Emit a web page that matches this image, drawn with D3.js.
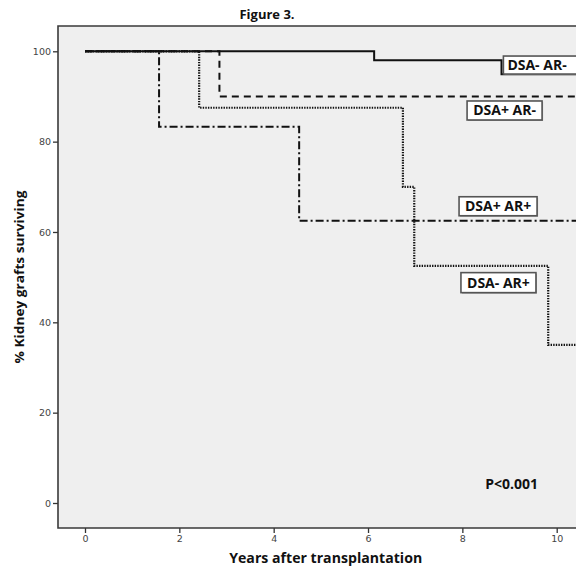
<!DOCTYPE html>
<html>
<head>
<meta charset="utf-8">
<script src="https://cdn.jsdelivr.net/npm/d3@7"></script>
<style>
  html, body { margin: 0; padding: 0; background: #fff; }
  svg { display: block; }
  text { font-family: "Open Sans", "DejaVu Sans", sans-serif; }
</style>
</head>
<body>
<svg id="chart" width="576" height="568"></svg>
<script>
// Kaplan–Meier graft survival by DSA / acute rejection group
const groupNames = ["DSA- AR-", "DSA+ AR-", "DSA+ AR+", "DSA- AR+"];

const dsaNegArNegYears = [0, 6.13, 8.83, 10.8];
const dsaNegArNegPct   = [100, 98.0, 94.9, 94.9];

const dsaPosArNegYears = [0, 2.85, 10.8];
const dsaPosArNegPct   = [100, 90.0, 90.0];

const dsaPosArPosYears = [0, 1.57, 4.54, 10.8];
const dsaPosArPosPct   = [100, 83.3, 62.5, 62.5];

const dsaNegArPosYears = [0, 2.42, 6.74, 6.98, 9.82, 10.8];
const dsaNegArPosPct   = [100, 87.5, 70.0, 52.5, 35.0, 35.0];

const xTickValues = [0, 2, 4, 6, 8, 10];
const yTickValues = [0, 20, 40, 60, 80, 100];

const chartTitle = "Figure 3.";
const xAxisTitle = "Years after transplantation";
const yAxisTitle = "% Kidney grafts surviving";
const pValueText = "P<0.001";

// ---- layout ----
const svg = d3.select("#chart");
const frame = { left: 58, top: 26, right: 600, bottom: 528 };

const x = d3.scaleLinear().domain([0, 10]).range([85, 556.7]);
const y = d3.scaleLinear().domain([0, 100]).range([503, 51.3]);

// plot panel
svg.append("rect")
  .attr("x", frame.left).attr("y", frame.top)
  .attr("width", frame.right - frame.left).attr("height", frame.bottom - frame.top)
  .attr("fill", "#efefef");

const clip = svg.append("clipPath").attr("id", "plotClip")
  .append("rect")
  .attr("x", frame.left).attr("y", frame.top)
  .attr("width", frame.right - frame.left).attr("height", frame.bottom - frame.top);

// axes
const yAxis = svg.append("g")
  .attr("transform", `translate(${frame.left},0)`)
  .call(d3.axisLeft(y).tickValues(yTickValues).tickSize(5).tickPadding(2).tickFormat(d3.format("d")));
const xAxis = svg.append("g")
  .attr("transform", `translate(0,${frame.bottom})`)
  .call(d3.axisBottom(x).tickValues(xTickValues).tickSize(5).tickPadding(2).tickFormat(d3.format("d")));

[yAxis, xAxis].forEach(g => {
  g.select(".domain").remove();
  g.selectAll(".tick line").attr("stroke", "#333").attr("stroke-width", 1.3);
  g.selectAll(".tick text")
    .attr("fill", "#444")
    .style("font-family", "'DejaVu Sans', sans-serif")
    .style("font-size", "9.5px");
});

// frame border
svg.append("path")
  .attr("d", `M${frame.right},${frame.top}H${frame.left}V${frame.bottom}H${frame.right}`)
  .attr("fill", "none").attr("stroke", "#3a3a3a").attr("stroke-width", 1.6);

// survival curves
const groups = [
  { name: groupNames[0], years: dsaNegArNegYears, pct: dsaNegArNegPct, dash: null },
  { name: groupNames[1], years: dsaPosArNegYears, pct: dsaPosArNegPct, dash: "7,5" },
  { name: groupNames[2], years: dsaPosArPosYears, pct: dsaPosArPosPct, dash: "8,3,2,3" },
  { name: groupNames[3], years: dsaNegArPosYears, pct: dsaNegArPosPct, dash: "1.4,1.2" }
];

const step = d3.line()
  .x(d => x(d[0]))
  .y(d => y(d[1]))
  .curve(d3.curveStepAfter);

const curves = svg.append("g").attr("clip-path", "url(#plotClip)");
// draw the solid reference group last so it sits on top at 100%
[groups[2], groups[3], groups[1], groups[0]].forEach(g => {
  curves.append("path")
    .datum(d3.zip(g.years, g.pct))
    .attr("d", step)
    .attr("fill", "none")
    .attr("stroke", "#111")
    .attr("stroke-width", g.dash === "1.4,1.2" ? 2.2 : 2)
    .attr("stroke-dasharray", g.dash);
});

// group labels (boxed), placed in data units
const labelBoxes = [
  { name: groupNames[0], x0: 8.87, y0: 98.95, w: 80, h: 18 },
  { name: groupNames[1], x0: 8.10, y0: 89.0, w: 75, h: 19 },
  { name: groupNames[2], x0: 7.93, y0: 67.8, w: 78, h: 19 },
  { name: groupNames[3], x0: 7.97, y0: 51.0, w: 75, h: 20 }
];

const labels = svg.append("g").attr("clip-path", "url(#plotClip)");
labelBoxes.forEach(b => {
  const bx = x(b.x0), by = y(b.y0);
  labels.append("rect")
    .attr("x", bx + 1).attr("y", by + 1)
    .attr("width", b.w).attr("height", b.h)
    .attr("fill", "#9a9a9a");
  labels.append("rect")
    .attr("x", bx).attr("y", by)
    .attr("width", b.w).attr("height", b.h)
    .attr("fill", "#fff").attr("stroke", "#555").attr("stroke-width", 1.6);
  labels.append("text")
    .attr("x", bx + (b.name === groupNames[0] ? 4 : b.w / 2))
    .attr("y", by + b.h / 2 + 5)
    .attr("text-anchor", b.name === groupNames[0] ? "start" : "middle")
    .attr("font-size", 14).attr("font-weight", 700).attr("fill", "#111")
    .text(b.name);
});

// p value
svg.append("text")
  .attr("x", 511.7).attr("y", 489)
  .attr("text-anchor", "middle")
  .attr("font-size", 14).attr("font-weight", 700).attr("fill", "#111")
  .text(pValueText);

// titles
svg.append("text")
  .attr("x", 267).attr("y", 19)
  .attr("text-anchor", "middle")
  .attr("font-size", 13).attr("font-weight", 700).attr("fill", "#111")
  .text(chartTitle);

svg.append("text")
  .attr("x", 325.7).attr("y", 563)
  .attr("text-anchor", "middle")
  .attr("font-size", 14).attr("font-weight", 700).attr("fill", "#111")
  .attr("textLength", 193).attr("lengthAdjust", "spacingAndGlyphs")
  .text(xAxisTitle);

svg.append("text")
  .attr("transform", `translate(24,${(frame.top + frame.bottom) / 2}) rotate(-90)`)
  .attr("text-anchor", "middle")
  .attr("font-size", 13).attr("font-weight", 700).attr("fill", "#111")
  .attr("textLength", 173).attr("lengthAdjust", "spacingAndGlyphs")
  .text(yAxisTitle);
</script>
</body>
</html>
